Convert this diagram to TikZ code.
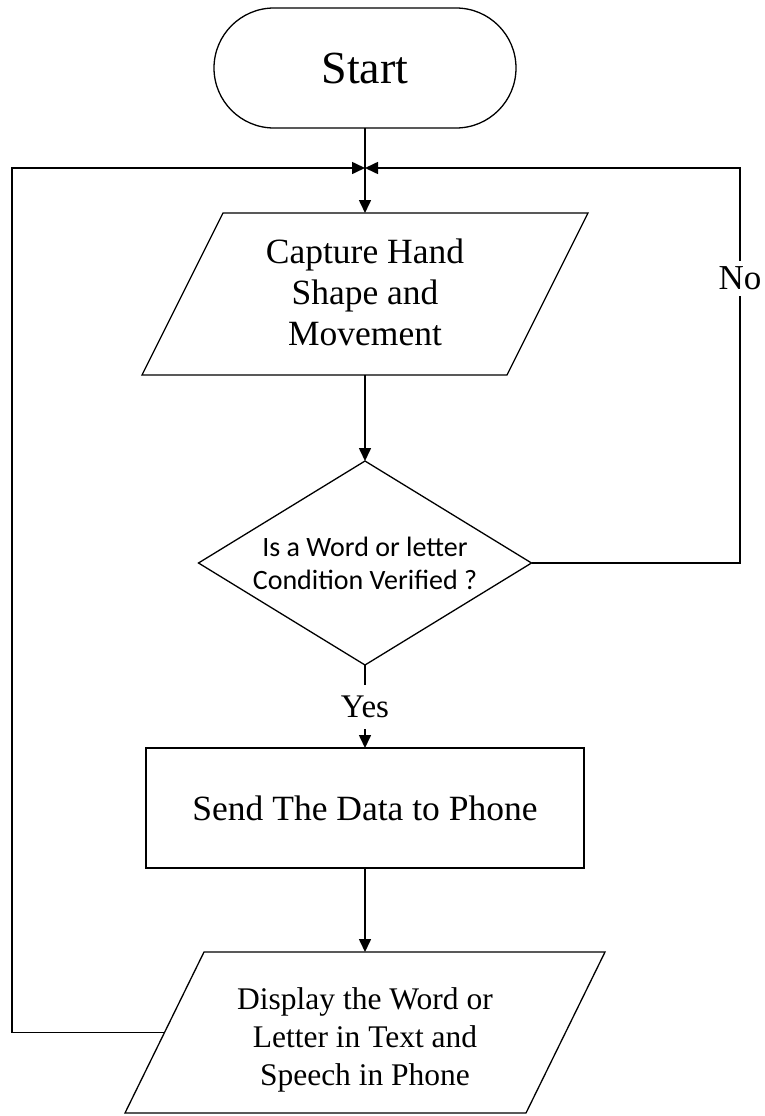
\documentclass[tikz,border=0pt]{standalone}
\usepackage{fontspec}
\setmainfont{Liberation Serif}
\newfontfamily\calibfont{Carlito}
\usetikzlibrary{arrows.meta,shapes.geometric,calc}

\begin{document}
\begin{tikzpicture}[x=1pt,y=-1pt,
  outline/.style={draw=black,line width=1.3pt},
  hold/.style={inner sep=0pt,outer sep=0pt},
  flow/.style={line width=1.6pt,-{Triangle[length=13pt,width=12pt]}},
  wire/.style={line width=1.6pt},
  tag/.style={fill=white,inner sep=0pt,align=center}]

\useasboundingbox (0,0) rectangle (765,1116);

% terminal
\node[outline,hold,rounded corners=60pt,minimum width=302pt,minimum height=120pt,
      font=\fontsize{46}{52}\selectfont] (start) at (365,68) {Start};

% meeting point of the two feedback lines
\coordinate (join) at (365,168);

% input: capture
\node[hold,minimum width=365pt,minimum height=162pt] (cap) at (365,294) {};
\draw[outline] ([xshift=40.5pt]cap.north west) -- ([xshift=40.5pt]cap.north east)
  -- ([xshift=-40.5pt]cap.south east) -- ([xshift=-40.5pt]cap.south west) -- cycle;
\node[align=center,font=\fontsize{35.5}{41}\selectfont] (captext) at (365,292)
  {Capture Hand\\Shape and\\Movement};

% decision
\node[outline,hold,diamond,minimum width=333pt,minimum height=204pt] (dia) at (365,563) {};
\node[align=center,font=\calibfont\fontsize{28}{33}\selectfont] (diatext) at (365,563)
  {Is a Word or letter\\Condition Verified ?};

% process
\node[outline,hold,minimum width=438pt,minimum height=120pt,
      font=\fontsize{35.5}{41}\selectfont] (send) at (365,808) {Send The Data to Phone};

% output: display
\node[hold,minimum width=401pt,minimum height=161pt] (disp) at (365,1032.5) {};
\draw[outline] ([xshift=39.5pt]disp.north west) -- ([xshift=39.5pt]disp.north east)
  -- ([xshift=-39.5pt]disp.south east) -- ([xshift=-39.5pt]disp.south west) -- cycle;
\node[align=center,font=\fontsize{31.5}{38}\selectfont] (disptext) at (365,1040)
  {Display the Word or\\Letter in Text and\\Speech in Phone};

% corners of the feedback lines
\coordinate (lcorner) at (12,168);
\coordinate (rcorner) at (740,168);

% connectors
\draw[wire] (start.south) -- (join);
\draw[flow] (join) -- (cap.north);
\draw[flow] (cap.south) -- (dia.north);
\draw[flow] (dia.south) -- (send.north);
\draw[flow] (send.south) -- (disp.north);
\draw[flow] (disp.west) -| (lcorner) -- (join);
\draw[flow] (dia.east) -| (rcorner) -- (join);

% branch labels
\node[tag,minimum height=44pt,font=\fontsize{33}{38}\selectfont] (yes) at (365,707) {Yes};
\node[tag,minimum height=35pt,font=\fontsize{35}{40}\selectfont] (no) at (740,278) {No};

\end{tikzpicture}
\end{document}
